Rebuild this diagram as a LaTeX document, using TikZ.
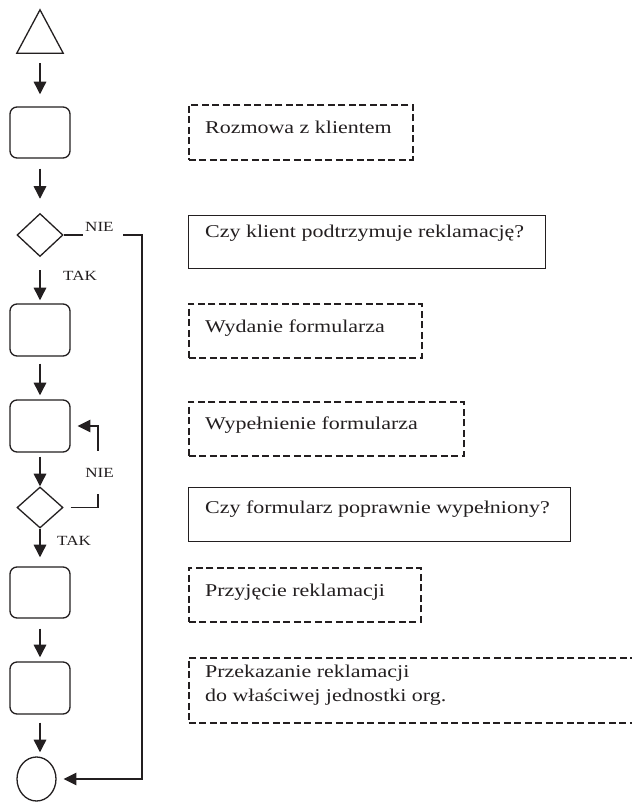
\documentclass[tikz,border=0pt]{standalone}
\usepackage{fontspec}
\setmainfont{Liberation Serif}[FakeStretch=1.22]
\usetikzlibrary{arrows.meta,shapes.geometric}
\definecolor{ink}{RGB}{35,31,32}
\begin{document}
\begin{tikzpicture}[x=1pt,y=-1pt,
  sh/.style={draw=ink, line width=1.3pt},
  rbox/.style={sh, rounded corners=7pt, minimum width=60pt, minimum height=52pt, inner sep=0pt},
  dec/.style={sh, shape=diamond, minimum width=46pt, minimum height=43pt, inner sep=0pt},
  sbox/.style={sh, rectangle, anchor=north west, inner sep=0pt},
  dbox/.style={draw=ink, line width=1.8pt, dash pattern=on 7pt off 3.5pt, rectangle, anchor=north west, inner sep=0pt},
  txt/.style={anchor=base west, inner sep=0pt, text=ink, font=\fontsize{18}{24.5}\selectfont},
  lbl/.style={inner sep=0pt, text=ink, font=\fontsize{14}{16}\selectfont},
  flow/.style={draw=ink, line width=2.3pt, -{Triangle[length=12.7pt,width=12.3pt]}},
  back/.style={draw=ink, line width=1.4pt, -{Triangle[length=12.7pt,width=12.3pt]}},
  plain/.style={draw=ink, line width=1.4pt}]
\useasboundingbox (0,0) rectangle (632,804);
\clip (0,0) rectangle (632,804);
\fill[white] (0,0) rectangle (632,804);

% left column shapes
\node[minimum width=46pt, minimum height=43pt, inner sep=0pt] (start) at (40,31.5) {};
\draw[sh, line join=miter] (start.south west) -- (start.south east) -- (start.north) -- cycle;
\node[rbox, minimum height=51pt] (b1) at (40,132.5) {};
\node[dec] (d1) at (40,235) {};
\node[rbox] (b2) at (40,330) {};
\node[rbox] (b3) at (40,426) {};
\node[dec, minimum height=41pt] (d2) at (40,507.5) {};
\node[rbox, minimum height=51pt] (b4) at (40,592.5) {};
\node[rbox] (b5) at (40,688) {};
\node[sh, shape=ellipse, minimum width=39pt, minimum height=44pt, inner sep=0pt] (end) at (36.5,779) {};

% main flow arrows
\draw[flow, shorten <=10pt, shorten >=12pt] (start.south) -- (b1.north);
\draw[flow, shorten <=10pt, shorten >=14pt] (b1.south) -- (d1.north);
\draw[flow, shorten <=13pt, shorten >=3pt] (d1.south) -- (b2.north);
\draw[flow, shorten <=7pt, shorten >=4pt] (b2.south) -- (b3.north);
\draw[flow, shorten <=4pt] (b3.south) -- (d2.north);
\draw[flow, shorten >=9pt] (d2.south) -- (b4.north);
\draw[flow, shorten <=10pt, shorten >=4pt] (b4.south) -- (b5.north);
\draw[flow, shorten <=8pt, shorten >=4pt] (b5.south) -- (b5.south |- end.north);

% NIE branch of first decision
\coordinate (n1a) at (83,235);
\coordinate (n1b) at (123,235);
\coordinate (r1) at (142,500);
\draw[plain] (d1.east) -- (n1a);
\draw[back, shorten >=7pt] (n1b) -| (r1) |- (end.east);
\node[lbl, anchor=base west] (nie1) at (85,231) {NIE};
\node[lbl, anchor=base west] (tak1) at (63,280) {TAK};

% NIE loop of second decision
\coordinate (r2) at (98,470);
\draw[back, shorten <=7pt, shorten >=7pt] (d2.east) -| (r2) |- (b3.east);
\node[lbl, fill=white, minimum height=43pt, inner xsep=1pt] (nie2) at (99.5,472.5) {NIE};
\node[lbl, anchor=base west] (tak2) at (57,545) {TAK};

% right column descriptions
\node[dbox, minimum width=224pt, minimum height=55pt] (ba) at (188,104) {};
\node[txt] (ta) at (205,133) {Rozmowa z klientem};
\node[sbox, minimum width=357pt, minimum height=53pt] (bb) at (188,215) {};
\node[txt] (tb) at (205,237) {Czy klient podtrzymuje reklamację?};
\node[dbox, minimum width=233pt, minimum height=54pt] (bc) at (188,303) {};
\node[txt] (tc) at (205,332) {Wydanie formularza};
\node[dbox, minimum width=275pt, minimum height=54pt] (bd) at (188,401) {};
\node[txt] (td) at (205,429) {Wypełnienie formularza};
\node[sbox, minimum width=382pt, minimum height=54pt] (be) at (188,487) {};
\node[txt] (te) at (205,513) {Czy formularz poprawnie wypełniony?};
\node[dbox, minimum width=232pt, minimum height=54pt] (bf) at (188,567) {};
\node[txt] (tf) at (205,596) {Przyjęcie reklamacji};
\node[dbox, minimum width=470pt, minimum height=65pt] (bg) at (188,657) {};
\node[txt] (tg1) at (205,677) {Przekazanie reklamacji};
\node[txt] (tg2) at (205,701.5) {do właściwej jednostki org.};
\end{tikzpicture}
\end{document}
